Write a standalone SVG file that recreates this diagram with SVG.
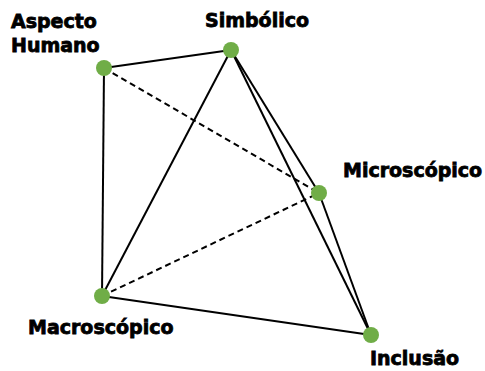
<svg xmlns="http://www.w3.org/2000/svg" width="485" height="371" viewBox="0 0 485 371">
<style>
.e{stroke:#000;stroke-width:2;fill:none}
.d{stroke-dasharray:6,4}
.n{fill:#70ad47}
.t{font-family:"DejaVu Sans",sans-serif;font-weight:bold;font-size:19px;fill:#000;stroke:#000;stroke-width:0.8}
</style>
<rect width="485" height="371" fill="#fff"/>
<g id="connectors">
<line class="e" x1="104" y1="68" x2="231" y2="50"/>
<line class="e" x1="104" y1="68" x2="102" y2="296"/>
<line class="e" x1="231" y1="50" x2="102" y2="296"/>
<line class="e" x1="231" y1="50" x2="319" y2="193"/>
<line class="e" x1="231" y1="50" x2="371" y2="335"/>
<line class="e" x1="319" y1="193" x2="371" y2="335"/>
<line class="e" x1="102" y1="296" x2="371" y2="335"/>
<line class="e d" x1="104" y1="68" x2="319" y2="193"/>
<line class="e d" x1="102" y1="296" x2="319" y2="193"/>
</g>
<g id="aspecto-humano"><circle class="n" cx="104" cy="68" r="8"/><text class="t" x="11" y="28">Aspecto</text><text class="t" x="11" y="52">Humano</text></g>
<g id="simbolico"><circle class="n" cx="231" cy="50" r="8"/><text class="t" x="205" y="27">Simbólico</text></g>
<g id="microscopico"><circle class="n" cx="319" cy="193" r="8"/><text class="t" x="343" y="177">Microscópico</text></g>
<g id="macroscopico"><circle class="n" cx="102" cy="296" r="8"/><text class="t" x="28" y="334">Macroscópico</text></g>
<g id="inclusao"><circle class="n" cx="371" cy="335" r="8"/><text class="t" x="370" y="365">Inclusão</text></g>
</svg>
